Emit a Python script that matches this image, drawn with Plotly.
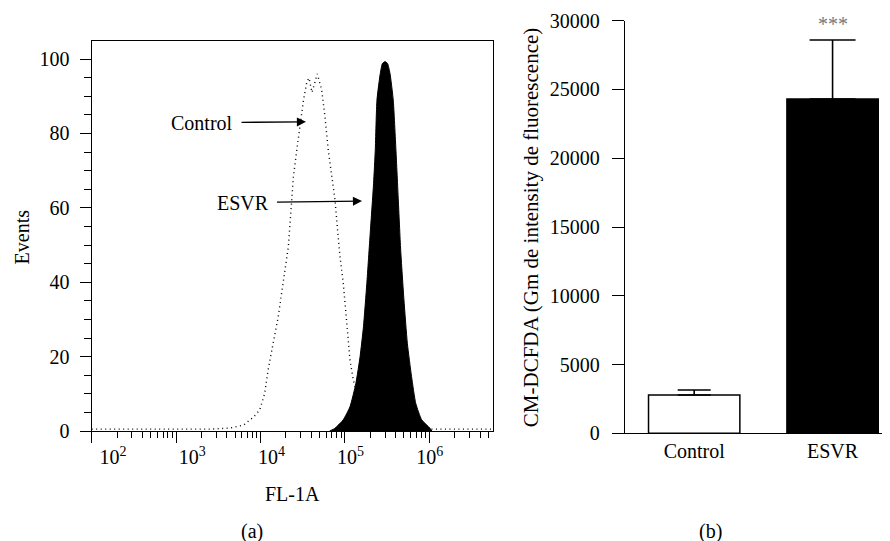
import numpy as np
import plotly.graph_objects as go

# ---------------- data ----------------
# Panel (a): flow-cytometry histograms, x given as log10(FL-1A)
control_log_fl1a = [2.0, 2.5, 3.0, 3.4, 3.64, 3.80, 3.92, 3.99, 4.05, 4.09, 4.15, 4.21, 4.25,
                    4.29, 4.33, 4.35, 4.37, 4.39, 4.43, 4.47, 4.51, 4.55, 4.575, 4.61, 4.64,
                    4.673, 4.725, 4.764, 4.803, 4.844, 4.883, 4.91, 4.942, 4.981, 5.021, 5.04,
                    5.06, 5.10, 5.18, 5.30, 5.42, 5.6, 6.0, 6.4, 6.755]
control_events = [0.5, 0.5, 0.5, 0.5, 0.8, 1.6, 3.8, 5.6, 10.1, 16.4, 23.6, 30.7, 37.0,
                  43.3, 49.5, 55.8, 62.1, 68.4, 75.5, 82.7, 89.0, 93.9, 94.9, 91.0, 93.5,
                  96.0, 91.7, 84.5, 75.5, 68.4, 62.1, 54.9, 46.9, 39.7, 30.7, 24.5,
                  19.1, 13.7, 7.0, 2.0, 0.6, 0.5, 0.5, 0.5, 0.5]

esvr_log_fl1a = [4.82, 4.88, 4.98, 5.06, 5.13, 5.18, 5.22, 5.26, 5.30, 5.34, 5.36, 5.38, 5.42,
                 5.445, 5.476, 5.505, 5.534, 5.573, 5.605, 5.633, 5.661, 5.70, 5.74, 5.79,
                 5.84, 5.91, 6.01, 6.03]
esvr_events = [0.0, 0.7, 3.0, 6.5, 12.8, 20.0, 28.0, 39.7, 53.1, 66.6, 75.5, 89.0, 96.2,
               98.8, 99.3, 98.8, 96.2, 89.0, 75.5, 62.1, 48.7, 35.2, 23.6, 14.6,
               7.4, 3.0, 0.7, 0.0]

decade_exponents = [2, 3, 4, 5, 6]
events_ticks = [0, 20, 40, 60, 80, 100]

# Panel (b): bar chart
groups = ["Control", "ESVR"]
mean_intensity = [2790, 24300]
error_up = [360, 4300]
intensity_ticks = [0, 5000, 10000, 15000, 20000, 25000, 30000]

# ---------------- figure ----------------
FONT = "Liberation Serif, Times New Roman, serif"
# the page body adds an 8 px margin, so the figure fills the rest of the 890x541 window
OFF = 8
W, H = 890 - OFF, 541 - OFF

def px_x(p):
    return (p - OFF) / W

def px_y(p):
    return 1 - (p - OFF) / H

control_x = [10 ** v for v in control_log_fl1a]
esvr_x = [10 ** v for v in esvr_log_fl1a]

fig = go.Figure()

fig.add_trace(go.Scatter(
    x=control_x, y=control_events, mode="lines",
    line=dict(color="black", width=1.4, dash="1px,3.5px"),
    xaxis="x", yaxis="y", showlegend=False, hoverinfo="skip"))

fig.add_trace(go.Scatter(
    x=esvr_x, y=esvr_events, mode="lines", fill="tozeroy",
    fillcolor="black", line=dict(color="black", width=1, shape="spline", smoothing=0.5),
    xaxis="x", yaxis="y", showlegend=False, hoverinfo="skip"))

# helper trace so the label-only overlay axis exists
fig.add_trace(go.Scatter(x=[], y=[], xaxis="x3", yaxis="y",
                         showlegend=False, hoverinfo="skip"))

bar_colors = ["white", "black"]
cap_half = [16.5, 23]
for g, m, e, c, hw in zip(groups, mean_intensity, error_up, bar_colors, cap_half):
    fig.add_trace(go.Bar(
        x=[g], y=[m], width=0.66, marker=dict(color=c, line=dict(color="black", width=1.5)),
        error_y=dict(type="data", symmetric=False, array=[e], arrayminus=[0],
                     color="black", thickness=1.6, width=hw),
        xaxis="x2", yaxis="y2", showlegend=False, hoverinfo="skip"))

# minor tick values for the log axis
minor_vals = [k * 10 ** d for d in range(2, 7) for k in range(2, 10) if k * 10 ** d < 10 ** 6.755]

lx0, lx1 = px_x(91.7), px_x(493)
ly0, ly1 = px_y(431), px_y(41)
rx0, rx1 = px_x(625), 1.0
ry0, ry1 = px_y(433.3), px_y(20.7)

TICKFONT = dict(family=FONT, size=20, color="black")
axis_common = dict(showline=True, linecolor="black", linewidth=1.3, showgrid=False,
                   zeroline=False, tickcolor="black", tickfont=TICKFONT, automargin=False)

fig.update_layout(
    width=W, height=H,
    margin=dict(l=0, r=0, t=0, b=0, autoexpand=False),
    paper_bgcolor="white", plot_bgcolor="white",
    font=dict(family=FONT, size=20, color="black"),
    barmode="overlay",
    showlegend=False,
    xaxis=dict(
        **axis_common, domain=[lx0, lx1], anchor="y", type="log",
        range=[2, 6.755], mirror=True,
        tickmode="array", tickvals=[10 ** d for d in decade_exponents],
        ticks="outside", ticklen=11, tickwidth=1.3, showticklabels=False,
        minor=dict(tickmode="array", tickvals=minor_vals, ticks="outside",
                   ticklen=6, tickwidth=1.2, tickcolor="black"),
    ),
    xaxis3=dict(
        overlaying="x", anchor="y", side="bottom", type="log", automargin=False,
        range=[1.731, 6.798], showline=False, showgrid=False, zeroline=False,
        tickmode="array", tickvals=[10 ** d for d in decade_exponents],
        ticktext=["10<sup>%d</sup>" % d for d in decade_exponents],
        ticks="outside", ticklen=8, tickcolor="rgba(0,0,0,0)", ticklabelstandoff=0,
        tickfont=TICKFONT,
    ),
    yaxis=dict(
        **axis_common, domain=[ly0, ly1], anchor="x", range=[0, 104.84], mirror=True,
        tickmode="array", tickvals=events_ticks, ticks="outside", ticklen=11, tickwidth=1.3,
        ticklabelstandoff=6,
        minor=dict(tickmode="linear", tick0=0, dtick=5, ticks="outside", ticklen=7,
                   tickwidth=1.2, tickcolor="black"),
    ),
    xaxis2=dict(
        **axis_common, domain=[rx0, rx1], anchor="y2", type="category",
        range=[-0.5, 1.415], ticks="", ticklabelstandoff=0,
    ),
    yaxis2=dict(
        **axis_common, domain=[ry0, ry1], anchor="x2", range=[0, 30000],
        tickmode="array", tickvals=intensity_ticks, tickformat="d",
        ticks="outside", ticklen=12, tickwidth=1.3, ticklabelstandoff=8,
    ),
)

# axis titles and panel letters placed as text at the positions seen in the reference
title_font = dict(family=FONT, size=20, color="black")
centered = dict(xref="paper", yref="paper", xanchor="center", yanchor="middle",
                showarrow=False)
fig.add_annotation(x=px_x(21.7), y=px_y(236.7), text="Events", textangle=-90,
                   font=title_font, **centered)
fig.add_annotation(x=px_x(292), y=px_y(494), text="FL-1A", font=title_font, **centered)
fig.add_annotation(x=px_x(531.7), y=px_y(227.5),
                   text="CM-DCFDA (Gm de intensity de fluorescence)", textangle=-90,
                   font=dict(family=FONT, size=21, color="black"), **centered)
fig.add_annotation(x=px_x(252), y=px_y(531), text="(a)", font=title_font, **centered)
fig.add_annotation(x=px_x(710), y=px_y(531), text="(b)", font=title_font, **centered)

arrow_style = dict(showarrow=True, arrowhead=2, arrowsize=1.4, arrowwidth=1.3,
                   arrowcolor="black", startstandoff=7,
                   font=dict(family=FONT, size=20, color="black"))

fig.add_annotation(x=4.539, y=83.1, ax=3.307, ay=82.9, xref="x", yref="y",
                   axref="x", ayref="y", text="Control", **arrow_style)
fig.add_annotation(x=5.203, y=61.8, ax=3.787, ay=61.4, xref="x", yref="y",
                   axref="x", ayref="y", text="ESVR", **arrow_style)

fig.add_annotation(x="ESVR", y=29750, xref="x2", yref="y2", text="***", showarrow=False,
                   xanchor="center", yanchor="middle",
                   font=dict(family=FONT, size=20, color="#777777"))

fig.write_html("out.html")
